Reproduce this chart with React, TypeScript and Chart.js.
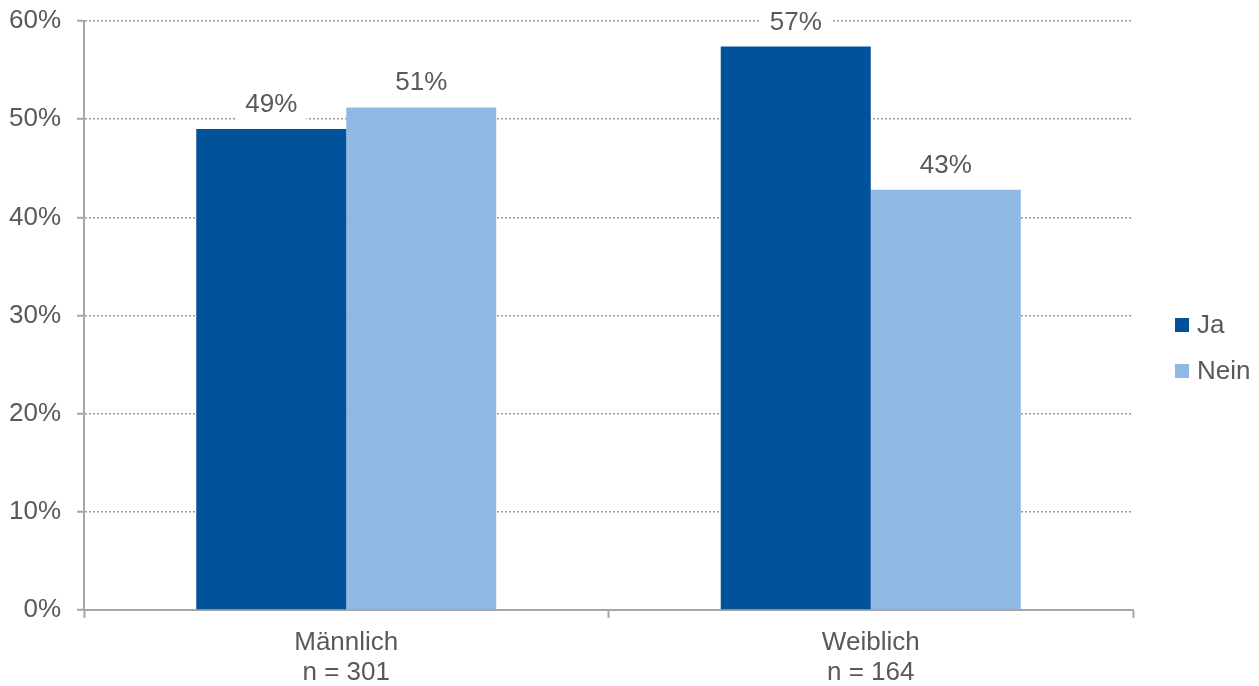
import React, { useEffect, useRef } from "react";
import { Chart, registerables } from "chart.js";

Chart.register(...registerables);

const categories: string[][] = [
  ["Männlich", "n = 301"],
  ["Weiblich", "n = 164"],
];
const seriesNames = ["Ja", "Nein"];
const jaValues = [49.0, 57.4];
const neinValues = [51.2, 42.8];
const jaLabels = ["49%", "57%"];
const neinLabels = ["51%", "43%"];
const yMin = 0;
const yMax = 60;
const yStep = 10;

const colors = ["#00529B", "#8FB9E4"];
const textColor = "#595959";
const axisColor = "#A6A6A6";
const gridColor = "#9A9A9A";
const fontFamily = "'Liberation Sans', Arial, sans-serif";

const valueLabelPlugin = {
  id: "valueLabels",
  afterDatasetsDraw(chart: any) {
    const ctx = chart.ctx;
    const allLabels = [jaLabels, neinLabels];
    ctx.save();
    ctx.font = `26px ${fontFamily}`;
    ctx.textAlign = "center";
    ctx.textBaseline = "alphabetic";
    chart.data.datasets.forEach((_ds: any, d: number) => {
      const meta = chart.getDatasetMeta(d);
      meta.data.forEach((bar: any, i: number) => {
        const text = allLabels[d][i];
        const baseline = bar.y - 17;
        const w = ctx.measureText(text).width;
        ctx.fillStyle = "#FFFFFF";
        ctx.fillRect(bar.x - w / 2 - 9, baseline - 24, w + 18, 33);
        ctx.fillStyle = textColor;
        ctx.fillText(text, bar.x, baseline);
      });
    });
    ctx.restore();
  },
};

const legendPlugin = {
  id: "sideLegend",
  afterDraw(chart: any) {
    const ctx = chart.ctx;
    const area = chart.chartArea;
    ctx.save();
    ctx.font = `26px ${fontFamily}`;
    ctx.textAlign = "left";
    ctx.textBaseline = "middle";
    const boxX = area.right + 42;
    const startY = 325;
    const gap = 46;
    chart.data.datasets.forEach((ds: any, d: number) => {
      const cy = startY + d * gap;
      ctx.fillStyle = ds.backgroundColor;
      ctx.fillRect(boxX, cy - 7, 14, 14);
      ctx.fillStyle = textColor;
      ctx.fillText(ds.label, boxX + 22, cy + 1);
    });
    ctx.restore();
  },
};

export default function App() {
  const canvasRef = useRef<HTMLCanvasElement | null>(null);

  useEffect(() => {
    if (!canvasRef.current) return;
    const chart = new Chart(canvasRef.current, {
      type: "bar",
      data: {
        labels: categories as any,
        datasets: [
          {
            label: seriesNames[0],
            data: jaValues,
            backgroundColor: colors[0],
            categoryPercentage: 0.572,
            barPercentage: 1.0,
          },
          {
            label: seriesNames[1],
            data: neinValues,
            backgroundColor: colors[1],
            categoryPercentage: 0.572,
            barPercentage: 1.0,
          },
        ],
      },
      options: {
        responsive: false,
        animation: false,
        devicePixelRatio: 1,
        layout: { padding: { top: 21, right: 126, left: 0, bottom: 0 } },
        plugins: {
          legend: { display: false },
          tooltip: { enabled: false },
        },
        scales: {
          x: {
            afterFit(scale: any) {
              scale.height = 76;
            },
            grid: {
              display: true,
              drawOnChartArea: false,
              drawTicks: true,
              tickLength: 8,
              tickColor: axisColor,
              tickWidth: 2,
              offset: true,
            },
            border: { display: true, color: axisColor, width: 2 },
            ticks: {
              color: textColor,
              font: { family: fontFamily, size: 26, lineHeight: 1.15 },
              padding: 10,
              maxRotation: 0,
            },
          },
          y: {
            min: yMin,
            max: yMax,
            afterFit(scale: any) {
              scale.width = 84;
              scale.paddingTop = 0;
              scale.paddingBottom = 0;
            },
            grid: {
              color: gridColor,
              lineWidth: 1.5,
              drawTicks: true,
              tickLength: 7,
              tickColor: axisColor,
              tickWidth: 2,
              tickBorderDash: [],
            } as any,
            border: { display: true, color: axisColor, width: 2, dash: [2, 2] },
            ticks: {
              stepSize: yStep,
              color: textColor,
              font: { family: fontFamily, size: 26 },
              padding: 16,
              callback: (v: any) => `${v}%`,
            },
          },
        },
      },
      plugins: [valueLabelPlugin, legendPlugin],
    });
    return () => chart.destroy();
  }, []);

  return (
    <div style={{ position: "absolute", left: 0, top: 0, width: 1259, height: 686, background: "#fff" }}>
      <canvas ref={canvasRef} width={1259} height={686} style={{ display: "block" }} />
    </div>
  );
}
